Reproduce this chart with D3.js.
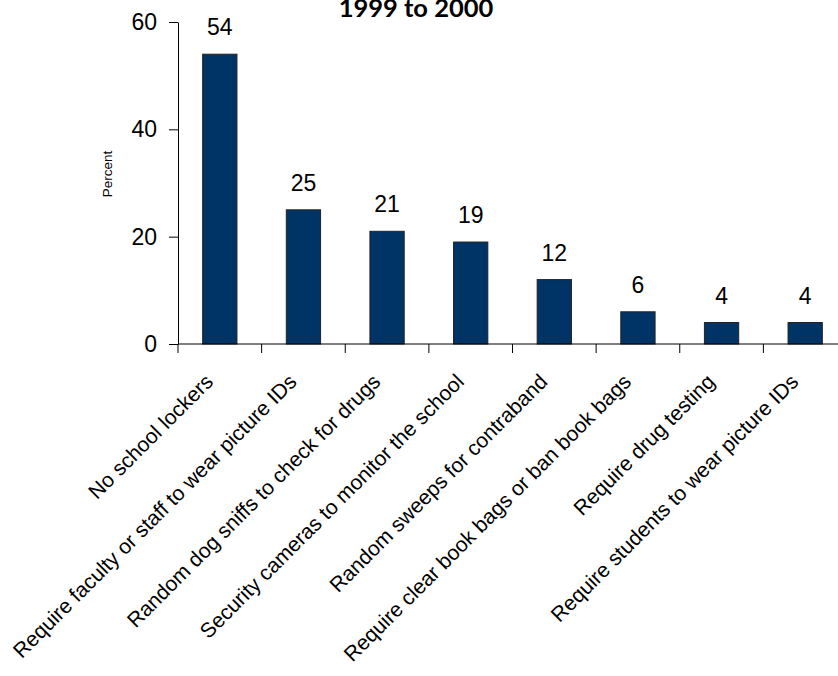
<!DOCTYPE html>
<html>
<head>
<meta charset="utf-8">
<script src="https://cdn.jsdelivr.net/npm/d3@7"></script>
<style>
  body { margin: 0; background: #fff; }
  svg { display: block; }
</style>
</head>
<body>
<svg id="chart" width="838" height="676"></svg>
<script>
const categories = [
  "No school lockers",
  "Require faculty or staff to wear picture IDs",
  "Random dog sniffs to check for drugs",
  "Security cameras to monitor the school",
  "Random sweeps for contraband",
  "Require clear book bags or ban book bags",
  "Require drug testing",
  "Require students to wear picture IDs"
];
const values = [54, 25, 21, 19, 12, 6, 4, 4];
const yTicks = [0, 20, 40, 60];
const titleText = "1999 to 2000";
const yLabel = "Percent";

(function () {
const svg = d3.select("#chart");
const mLeft = 178, mRight = 847, mTop = 22, mBottom = 344;

const x = d3.scaleBand().domain(categories).range([mLeft, mRight]).paddingInner(0.59).paddingOuter(0.295);
const y = d3.scaleLinear().domain([0, 60]).range([mBottom, mTop]);
const step = x.step();

const font = "'Liberation Sans', Arial, sans-serif";

// title
svg.append("text")
  .attr("x", 416).attr("y", 17)
  .attr("text-anchor", "middle")
  .attr("font-family", "Lato, 'Open Sans', sans-serif")
  .attr("font-weight", "bold")
  .attr("font-size", 25.5)
  .attr("fill", "#000")
  .text(titleText);

// y label
svg.append("text")
  .attr("transform", "translate(112,174) rotate(-90)")
  .attr("text-anchor", "middle")
  .attr("font-family", font)
  .attr("font-size", 13.5)
  .text(yLabel);

// bars
svg.selectAll("rect.bar").data(values).enter().append("rect")
  .attr("class", "bar")
  .attr("x", (d, i) => x(categories[i]))
  .attr("width", x.bandwidth())
  .attr("y", d => y(d))
  .attr("height", d => y(0) - y(d))
  .attr("fill", "#003366")
  .attr("stroke", "#222")
  .attr("stroke-width", 1);

// value labels
svg.selectAll("text.val").data(values).enter().append("text")
  .attr("class", "val")
  .attr("x", (d, i) => x(categories[i]) + x.bandwidth() / 2)
  .attr("y", d => y(d) - 19)
  .attr("text-anchor", "middle")
  .attr("font-family", font)
  .attr("font-size", 23)
  .text(d => d);

// y axis
const yAxis = d3.axisLeft(y).tickValues(yTicks).tickSize(9).tickPadding(12).tickSizeOuter(0);
const gy = svg.append("g").attr("transform", `translate(${mLeft},0)`).call(yAxis);
gy.select(".domain").attr("stroke", "#000");
gy.selectAll(".tick line").attr("stroke", "#000");
gy.selectAll(".tick text").attr("font-family", font).attr("font-size", 23).attr("fill", "#000");

// x axis
const boundaries = d3.range(categories.length + 1).map(i => mLeft + i * step);
svg.append("line")
  .attr("x1", mLeft).attr("x2", 838)
  .attr("y1", mBottom).attr("y2", mBottom)
  .attr("stroke", "#000");
svg.selectAll("line.xt").data(boundaries).enter().append("line")
  .attr("class", "xt")
  .attr("x1", d => d).attr("x2", d => d)
  .attr("y1", mBottom).attr("y2", mBottom + 9)
  .attr("stroke", "#000");

// category labels
svg.selectAll("text.cat").data(categories).enter().append("text")
  .attr("class", "cat")
  .attr("transform", d => `translate(${x(d) + x.bandwidth() / 2 - 5.5},383) rotate(-45)`)
  .attr("text-anchor", "end")
  .attr("font-family", font)
  .attr("font-size", 21)
  .text(d => d);
})();
</script>
</body>
</html>
